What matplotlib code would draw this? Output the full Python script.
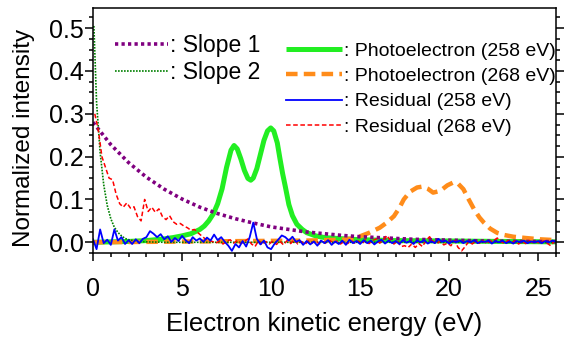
import numpy as np
import matplotlib
matplotlib.use("Agg")
import matplotlib.pyplot as plt
from matplotlib.ticker import MultipleLocator

plt.rcParams['font.family'] = ['Liberation Sans', 'DejaVu Sans']

# ---------------- data ----------------
slope1_x = [0, 1, 2, 3, 4, 5, 6, 7, 8, 9, 10, 11, 12, 13, 14, 15, 16, 17, 18,
            19, 20, 21, 22, 23, 24, 25, 26]
slope1_y = [0.280, 0.228, 0.186, 0.152, 0.124, 0.101, 0.082, 0.067, 0.055,
            0.045, 0.036, 0.030, 0.024, 0.020, 0.016, 0.013, 0.011, 0.009,
            0.007, 0.006, 0.005, 0.004, 0.003, 0.0025, 0.002, 0.0017, 0.0014]

slope2_x = [0.05, 0.2, 0.4, 0.6, 0.8, 1.0, 1.2, 1.4, 1.6, 1.8, 2.0, 2.5, 3.0,
            4.0, 6.0, 10.0, 15.0, 20.0, 26.0]
slope2_y = [0.505, 0.327, 0.210, 0.135, 0.086, 0.055, 0.035, 0.023, 0.015,
            0.009, 0.006, 0.002, 0.001, 0.0, 0.0, 0.0, 0.0, 0.0, 0.0]

pe258_x = [0, 1, 2, 3, 4, 4.5, 5, 5.5, 6, 6.25, 6.5, 6.75, 7.0, 7.25, 7.5,
           7.75, 7.92, 8.1, 8.3, 8.5, 8.7, 8.86, 9.0, 9.2, 9.4, 9.6, 9.8,
           9.98, 10.15, 10.35, 10.5, 10.65, 10.8, 11.0, 11.2, 11.45, 11.75,
           12.0, 12.5, 13.0, 13.7, 15, 17, 20, 23, 26]
pe258_y = [0.0, 0.001, 0.002, 0.004, 0.008, 0.011, 0.015, 0.020, 0.030,
           0.038, 0.050, 0.066, 0.090, 0.125, 0.175, 0.215, 0.226, 0.218,
           0.195, 0.168, 0.149, 0.145, 0.150, 0.172, 0.205, 0.238, 0.260,
           0.267, 0.260, 0.232, 0.195, 0.160, 0.130, 0.088, 0.062, 0.042,
           0.030, 0.0225, 0.015, 0.011, 0.009, 0.006, 0.004, 0.003, 0.002,
           0.001]

pe268_x = [0, 3, 6, 9, 12, 14, 14.6, 15.0, 15.5, 16.1, 16.5, 16.9, 17.2,
           17.45, 17.8, 18.2, 18.5, 18.8, 19.1, 19.5, 19.9, 20.25, 20.5, 20.8,
           21.1, 21.4, 21.7, 21.95, 22.3, 22.7, 23.1, 23.6, 24.3, 25.1, 26.0]
pe268_y = [0.0, 0.001, 0.002, 0.003, 0.004, 0.006, 0.009, 0.014, 0.022,
           0.034, 0.046, 0.061, 0.080, 0.100, 0.118, 0.128, 0.130, 0.125,
           0.116, 0.120, 0.133, 0.140, 0.137, 0.124, 0.100, 0.077, 0.058,
           0.046, 0.032, 0.022, 0.017, 0.013, 0.010, 0.007, 0.005]

# residuals sampled every 0.2 eV
res258_start, res258_step = 0.0, 0.2
res258_y = [
    0.007, -0.016, 0.030, -0.002, 0.006, -0.006, 0.030, 0.004, 0.012, -0.004,
    0.005, -0.004, 0.007, -0.002, 0.008, 0.012, 0.026, 0.020, 0.012, 0.019,
    0.007, 0.014, 0.001, 0.010, 0.003, 0.015, 0.005, -0.002, 0.012, 0.004,
    0.009, 0.001, 0.011, 0.004, 0.018, 0.005, 0.012, 0.001, -0.008, -0.020,
    -0.004, -0.012, 0.003, -0.010, 0.012, 0.046, 0.008, -0.005, 0.004, -0.012,
    -0.016, -0.003, 0.006, 0.016, 0.012, 0.004, 0.013, 0.001, 0.005, -0.006,
    0.003, -0.005, 0.002, -0.008, 0.004, -0.002, 0.005, -0.006, 0.002, -0.004,
    0.004, -0.006, 0.006, -0.002, 0.003, -0.004, 0.005, -0.002, 0.004, -0.005,
    0.002, 0.006, -0.003, 0.004, -0.002, 0.003, -0.004, 0.005, -0.001, 0.003,
    -0.004, 0.004, 0.000, 0.005, -0.003, 0.002, -0.002, 0.008, 0.001, 0.004,
    -0.003, 0.003, 0.000, 0.004, -0.002, 0.003, 0.000, 0.005, -0.002, 0.002,
    0.001, 0.004, -0.003, 0.003, 0.000, 0.004, -0.002, 0.002, -0.003, 0.003,
    0.000, 0.004, -0.002, 0.002, 0.000, 0.003, -0.002, 0.003, 0.000, 0.004,
    0.001]

res268_start, res268_step = 0.1, 0.2
res268_y = [
    0.300, 0.262, 0.200, 0.175, 0.150, 0.146, 0.112, 0.090, 0.082, 0.092,
    0.080, 0.083, 0.060, 0.050, 0.100, 0.072, 0.082, 0.070, 0.078, 0.060,
    0.053, 0.062, 0.048, 0.042, 0.044, 0.038, 0.034, 0.028, 0.030, 0.022,
    0.015, 0.008, 0.004, 0.002, -0.002, 0.003, -0.004, 0.002, 0.006, -0.002,
    0.004, -0.003, 0.002, 0.008, -0.004, -0.010, 0.004, -0.006, 0.002, -0.004,
    0.003, -0.005, 0.002, -0.006, 0.004, -0.003, 0.006, -0.004, 0.002, -0.005,
    0.003, -0.002, 0.004, -0.004, 0.002, -0.003, 0.004, -0.002, 0.003, -0.004,
    0.002, -0.003, 0.004, -0.002, 0.003, -0.004, 0.006, -0.003, 0.004, 0.008,
    -0.002, 0.006, 0.016, 0.004, -0.004, 0.003, -0.010, -0.008, -0.012, -0.004,
    -0.012, -0.003, -0.010, 0.004, 0.013, 0.002, -0.004, 0.003, -0.006, -0.002,
    -0.008, 0.004, -0.012, -0.020, -0.010, 0.002, -0.004, 0.003, -0.002, 0.004,
    -0.003, 0.002, 0.004, 0.010, 0.002, -0.003, 0.004, -0.002, 0.003, -0.004,
    0.002, -0.003, 0.004, -0.002, 0.002, -0.004, 0.003, -0.002, -0.008, 0.002]

labels = [": Slope 1", ": Slope 2", ": Photoelectron (258 eV)",
          ": Photoelectron (268 eV)", ": Residual (258 eV)",
          ": Residual (268 eV)"]
xlabel = "Electron kinetic energy (eV)"
ylabel = "Normalized intensity"

res258_x = res258_start + res258_step * np.arange(len(res258_y))
res268_x = res268_start + res268_step * np.arange(len(res268_y))

# ---------------- figure ----------------
W, H = 570, 339
fig = plt.figure(figsize=(W / 100, H / 100), dpi=100)
L, R, B, T = 93, 556, 253, 8
ax = fig.add_axes([L / W, (H - B) / H, (R - L) / W, (B - T) / H])

h3, = ax.plot(pe258_x, pe258_y, color='#22EE22', lw=3.6, solid_capstyle='butt')
h4, = ax.plot(pe268_x, pe268_y, color='#FF8C1A', lw=3.2,
              linestyle=(0, (2.6, 1.4)))
h1, = ax.plot(slope1_x, slope1_y, color='#800080', lw=2.6,
              linestyle=(0, (0.9, 0.9)))
h2, = ax.plot(slope2_x, slope2_y, color='#008000', lw=1.2,
              linestyle=(0, (1.0, 0.8)))
h6, = ax.plot(res268_x, res268_y, color='#FF0000', lw=1.1,
              linestyle=(0, (3.0, 1.7)))
h5, = ax.plot(res258_x, res258_y, color='#0000FF', lw=1.3)

ax.set_xlim(0, 26)
ax.set_ylim(-0.025, 0.547)
ax.xaxis.set_major_locator(MultipleLocator(5))
ax.xaxis.set_minor_locator(MultipleLocator(1))
ax.yaxis.set_major_locator(MultipleLocator(0.1))
ax.yaxis.set_minor_locator(MultipleLocator(0.025))
ax.yaxis.set_major_formatter(matplotlib.ticker.FormatStrFormatter('%.1f'))

for sp in ax.spines.values():
    sp.set_linewidth(1.1)
ax.tick_params(which='both', direction='out', width=1.1, top=False,
               right=True, labelsize=18)
ax.tick_params(axis='x', which='major', length=5.5, pad=12)
ax.tick_params(axis='x', which='minor', length=3)
ax.tick_params(axis='y', which='major', length=5.5, pad=1)
ax.tick_params(axis='y', which='minor', length=3)

ax.set_xlabel(xlabel, fontsize=18.5, labelpad=8)
ax.set_ylabel(ylabel, fontsize=17.5)
ax.yaxis.set_label_coords(-0.126, 0.47)

def fx(px):
    return (px - L) / (R - L)

def fy(py):
    return (B - py) / (B - T)

leg1 = ax.legend([h1, h2], labels[:2], loc='center left',
                 bbox_to_anchor=(fx(115), fy(59)), frameon=False,
                 fontsize=16.5, handlelength=2.3, handletextpad=0.1,
                 labelspacing=0.18, borderpad=0, borderaxespad=0)
ax.add_artist(leg1)
leg2 = ax.legend([h3, h4, h5, h6], labels[2:], loc='center left',
                 bbox_to_anchor=(fx(286), fy(89)), frameon=False,
                 fontsize=14, handlelength=2.9, handletextpad=0.1,
                 labelspacing=0.4, borderpad=0, borderaxespad=0)

fig.savefig("out.png", dpi=100)
